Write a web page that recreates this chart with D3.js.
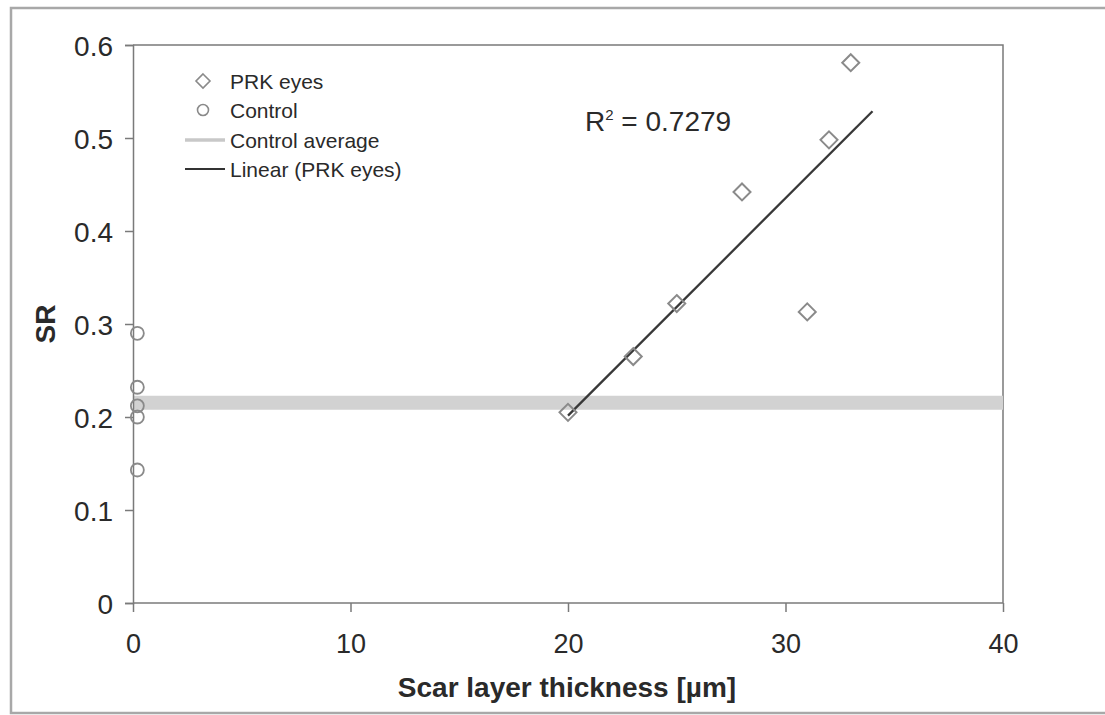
<!DOCTYPE html>
<html>
<head>
<meta charset="utf-8">
<script src="https://cdn.jsdelivr.net/npm/d3@7"></script>
<style>
  html, body { margin: 0; padding: 0; background: #fff; }
  svg { display: block; }
  text { font-family: "Liberation Sans", Arial, Helvetica, sans-serif; fill: #2a2a2a; }
</style>
</head>
<body>
<svg id="chart" width="1105" height="715"></svg>
<script>
// ---- data ----
const prkThickness = [20, 23, 25, 28, 31, 32, 33];
const prkSR        = [0.205, 0.265, 0.322, 0.442, 0.313, 0.498, 0.581];
const controlThickness = [0.2, 0.2, 0.2, 0.2, 0.2];
const controlSR        = [0.290, 0.232, 0.212, 0.200, 0.143];
const trendRange = [20, 34];
const xTicks = [0, 10, 20, 30, 40];
const xTickLabels = ["0", "10", "20", "30", "40"];
const yTicks = [0, 0.1, 0.2, 0.3, 0.4, 0.5, 0.6];
const yTickLabels = ["0", "0.1", "0.2", "0.3", "0.4", "0.5", "0.6"];
const legendLabels = ["PRK eyes", "Control", "Control average", "Linear (PRK eyes)"];
const r2Label = "0.7279";
const xTitle = "Scar layer thickness [µm]";
const yTitle = "SR";

// ---- layout ----
const svg = d3.select("#chart");
const L = 133, R = 1003, T = 45, B = 603;
const x = d3.scaleLinear().domain([0, 40]).range([L, R]);
const y = d3.scaleLinear().domain([0, 0.6]).range([B, T]);
const axisColor = "#7a7a7a";
const markColor = "#8a8a8a";

// outer frame
svg.append("rect").attr("x", 11).attr("y", 8).attr("width", 1110).attr("height", 705)
  .attr("fill", "none").attr("stroke", "#a8a8a8").attr("stroke-width", 2.5);

// plot box (top & right)
svg.append("path")
  .attr("d", `M${L},${T}H${R}V${B}`)
  .attr("fill", "none").attr("stroke", axisColor).attr("stroke-width", 1.5);

// control average band
const ctrlMean = d3.mean(controlSR);
svg.append("line")
  .attr("x1", x(0)).attr("x2", x(40)).attr("y1", y(ctrlMean)).attr("y2", y(ctrlMean))
  .attr("stroke", "#d2d2d2").attr("stroke-width", 14);

// axes
const yAxis = d3.axisLeft(y).tickValues(yTicks).tickSize(8).tickPadding(12)
  .tickFormat((d, i) => yTickLabels[i]);
const gy = svg.append("g").attr("transform", `translate(${L},0)`).call(yAxis);
gy.select(".domain").attr("stroke", axisColor).attr("stroke-width", 1.5);
gy.selectAll(".tick line").attr("stroke", axisColor).attr("stroke-width", 1.5);
gy.selectAll(".tick text").style("font-size", "28px").attr("fill", "#2a2a2a").attr("dy", "0.38em");

const xAxis = d3.axisBottom(x).tickValues(xTicks).tickSize(9).tickPadding(22)
  .tickFormat((d, i) => xTickLabels[i]);
const gx = svg.append("g").attr("transform", `translate(0,${B})`).call(xAxis);
gx.select(".domain").attr("stroke", axisColor).attr("stroke-width", 1.5);
gx.selectAll(".tick line").attr("stroke", axisColor).attr("stroke-width", 1.5);
gx.selectAll(".tick text").style("font-size", "27px").attr("fill", "#2a2a2a").attr("dy", "0.71em");
gx.selectAll(".domain").attr("d", `M${L},0H${R}`);

// axis titles
svg.append("text").attr("x", (L + R) / 2 - 1).attr("y", 697).attr("text-anchor", "middle")
  .style("font-size", "28px").style("font-weight", "bold").text(xTitle);
svg.append("text").attr("transform", `translate(55,${(T + B) / 2}) rotate(-90)`)
  .attr("text-anchor", "middle").style("font-size", "28px").style("font-weight", "bold").text(yTitle);

// linear trend (least squares on PRK eyes)
const mx = d3.mean(prkThickness), my = d3.mean(prkSR);
let sxy = 0, sxx = 0;
prkThickness.forEach((v, i) => { sxy += (v - mx) * (prkSR[i] - my); sxx += (v - mx) ** 2; });
const slope = sxy / sxx, icpt = my - slope * mx;
svg.append("line")
  .attr("x1", x(trendRange[0])).attr("y1", y(icpt + slope * trendRange[0]))
  .attr("x2", x(trendRange[1])).attr("y2", y(icpt + slope * trendRange[1]))
  .attr("stroke", "#383838").attr("stroke-width", 2.3);

// control points
svg.append("g").selectAll("circle").data(controlSR).join("circle")
  .attr("cx", (d, i) => x(controlThickness[i])).attr("cy", d => y(d)).attr("r", 6.5)
  .attr("fill", "none").attr("stroke", markColor).attr("stroke-width", 1.8);

// PRK diamonds
const dia = s => `M0,${-s}L${s},0L0,${s}L${-s},0Z`;
svg.append("g").selectAll("path").data(prkSR).join("path")
  .attr("transform", (d, i) => `translate(${x(prkThickness[i])},${y(d)})`)
  .attr("d", dia(8.5))
  .attr("fill", "none").attr("stroke", markColor).attr("stroke-width", 2);

// R² label
const r2 = svg.append("text").attr("x", 585).attr("y", 131).style("font-size", "28px");
r2.append("tspan").text("R");
r2.append("tspan").attr("dy", -11).style("font-size", "15px").text("2");
r2.append("tspan").attr("dy", 11).text(" = " + r2Label);

// legend
const lg = svg.append("g");
const rowY = [81, 110, 140, 169];
const textX = 230, symX = 203;
lg.append("path").attr("transform", `translate(${symX},${rowY[0]})`).attr("d", dia(7))
  .attr("fill", "none").attr("stroke", markColor).attr("stroke-width", 1.6);
lg.append("circle").attr("cx", symX).attr("cy", rowY[1]).attr("r", 5.5)
  .attr("fill", "none").attr("stroke", markColor).attr("stroke-width", 1.6);
lg.append("line").attr("x1", 185).attr("x2", 225).attr("y1", rowY[2]).attr("y2", rowY[2])
  .attr("stroke", "#c8c8c8").attr("stroke-width", 3.5);
lg.append("line").attr("x1", 185).attr("x2", 225).attr("y1", rowY[3]).attr("y2", rowY[3])
  .attr("stroke", "#333").attr("stroke-width", 2);
legendLabels.forEach((t, i) => {
  lg.append("text").attr("x", textX).attr("y", rowY[i]).attr("dy", "0.36em")
    .style("font-size", "21px").text(t);
});
</script>
</body>
</html>
